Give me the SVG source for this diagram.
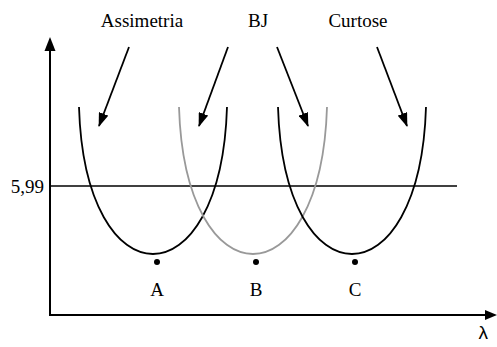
<svg xmlns="http://www.w3.org/2000/svg" width="497" height="347" viewBox="0 0 497 347">
<style>
  .lbl { font-family: "Liberation Serif", "Times New Roman", serif; font-size: 19px; fill: #000; }
  .axis { stroke: #000; stroke-width: 2; fill: none; }
  .curve { stroke: #000; stroke-width: 1.8; fill: none; }
  .gray { stroke: #999; }
  .arr { stroke: #000; stroke-width: 1.8; fill: none; marker-end: url(#ah); }
</style>
<defs>
  <marker id="ah" viewBox="0 0 14 10" refX="13" refY="5" markerWidth="14" markerHeight="10" markerUnits="userSpaceOnUse" orient="auto">
    <path d="M0,0 L14,5 L0,10 Z" fill="#000"/>
  </marker>
</defs>
<rect width="497" height="347" fill="#fff"/>
<g id="axes">
  <line class="axis" x1="50" y1="315" x2="50" y2="48"/>
  <path d="M50,37 L55.5,51 L44.5,51 Z" fill="#000"/>
  <line class="axis" x1="49" y1="315" x2="488" y2="315"/>
  <path d="M497,315 L485,310 L485,320 Z" fill="#000"/>
  <text x="488" y="339" text-anchor="end" style="font-family:'Liberation Sans',Arial,sans-serif;font-size:19px">λ</text>
</g>
<g id="threshold">
  <line stroke="#000" stroke-width="1.6" x1="50" y1="186" x2="457" y2="186"/>
  <text class="lbl" x="44" y="193" text-anchor="end">5,99</text>
</g>
<g id="curve-A">
  <path class="curve" d="M79,107 C85,303 221,303 227,107"/>
  <circle cx="157" cy="262" r="3" fill="#000"/>
  <text class="lbl" x="157" y="296" text-anchor="middle">A</text>
</g>
<g id="curve-B">
  <path class="curve gray" d="M179,107 C185,303 321,303 327,107"/>
  <circle cx="256" cy="262" r="3" fill="#000"/>
  <text class="lbl" x="256" y="296" text-anchor="middle">B</text>
</g>
<g id="curve-C">
  <path class="curve" d="M278,107 C284,303 420,303 426,107"/>
  <circle cx="355" cy="262" r="3" fill="#000"/>
  <text class="lbl" x="355" y="296" text-anchor="middle">C</text>
</g>
<g id="labels">
  <text class="lbl" x="142" y="27" text-anchor="middle">Assimetria</text>
  <text class="lbl" x="258" y="27" text-anchor="middle">BJ</text>
  <text class="lbl" x="358" y="27" text-anchor="middle">Curtose</text>
</g>
<g id="connectors">
  <line class="arr" x1="129" y1="47" x2="99" y2="126"/>
  <line class="arr" x1="228" y1="47" x2="199" y2="126"/>
  <line class="arr" x1="277" y1="47" x2="308" y2="126"/>
  <line class="arr" x1="377" y1="47" x2="407" y2="126"/>
</g>
</svg>
